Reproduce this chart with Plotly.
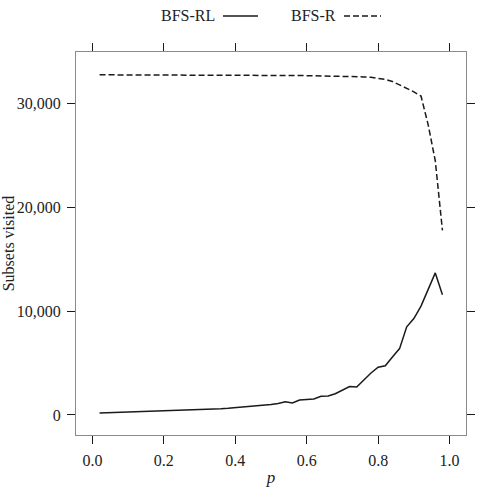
import plotly.graph_objects as go

p = [round(0.02 * i, 2) for i in range(1, 50)]
bfs_rl = [200, 220, 240, 260, 280, 300, 320, 340, 360, 380,
          400, 420, 440, 470, 500, 530, 570, 610, 650, 700,
          750, 800, 870, 940, 1020, 1100, 1280, 1150, 1450, 1500,
          1550, 1800, 1830, 2050, 2400, 2750, 2700, 3400, 4050, 4600,
          4750, 5600, 6400, 8500, 9300, 10500, 12100, 13700, 11600]
bfs_r = [32800, 32800, 32800, 32800, 32800, 32800, 32800, 32800, 32800, 32800,
         32800, 32800, 32800, 32800, 32800, 32800, 32790, 32790, 32780, 32780,
         32770, 32770, 32760, 32760, 32750, 32750, 32740, 32740, 32730, 32720,
         32710, 32700, 32690, 32680, 32670, 32650, 32630, 32600, 32560, 32480,
         32350, 32150, 31850, 31500, 31150, 30750, 28000, 24500, 17800]

series_names = ["BFS-RL", "BFS-R"]
xticks = [0.0, 0.2, 0.4, 0.6, 0.8, 1.0]
yticks = [0, 10000, 20000, 30000]

FONT = "Liberation Serif"
DASH = "6px,3px"
fig = go.Figure()
fig.add_trace(go.Scatter(x=p, y=bfs_rl, mode="lines", name=series_names[0],
                         line=dict(color="#1a1a1a", width=1.5), showlegend=False))
fig.add_trace(go.Scatter(x=p, y=bfs_r, mode="lines", name=series_names[1],
                         line=dict(color="#1a1a1a", width=1.5, dash=DASH), showlegend=False))

axis_common = dict(showgrid=False, zeroline=False, showline=True, linecolor="#8a8a8a",
                   linewidth=1, mirror="ticks", ticks="outside", ticklen=8,
                   tickcolor="#1a1a1a", tickwidth=1.3, automargin=False,
                   ticklabelstandoff=3,
                   tickfont=dict(family=FONT, size=16, color="#222"))

fig.update_xaxes(range=[-0.046, 1.046], tickvals=xticks, tickformat=".1f",
                 title=dict(text="<i>p</i>", font=dict(family=FONT, size=17, color="#222"), standoff=2),
                 **axis_common)
fig.update_yaxes(range=[-1930, 35000], tickvals=yticks, tickformat=",d",
                 title=dict(text="Subsets visited", font=dict(family=FONT, size=16, color="#222"), standoff=0),
                 **axis_common)

# Legend drawn at top (text followed by line sample, lattice style)
W = 390.0
H = 383.0
def px(x):
    return (x - 76) / W
def py(y):
    return (435 - y) / H

fig.add_annotation(x=px(217), y=py(15), xref="paper", yref="paper", text=series_names[0],
                   showarrow=False, xanchor="right", yanchor="middle",
                   font=dict(family=FONT, size=16, color="#222"))
fig.add_shape(type="line", xref="paper", yref="paper", x0=px(223), x1=px(258), y0=py(16), y1=py(16),
              line=dict(color="#1a1a1a", width=1.5))
fig.add_annotation(x=px(338), y=py(15), xref="paper", yref="paper", text=series_names[1],
                   showarrow=False, xanchor="right", yanchor="middle",
                   font=dict(family=FONT, size=16, color="#222"))
fig.add_shape(type="line", xref="paper", yref="paper", x0=px(344), x1=px(381), y0=py(16), y1=py(16),
              line=dict(color="#1a1a1a", width=1.5, dash=DASH))

fig.update_layout(width=494, height=490, margin=dict(l=76, r=28, t=52, b=55),
                  paper_bgcolor="white", plot_bgcolor="white")
fig.write_html("out.html")
